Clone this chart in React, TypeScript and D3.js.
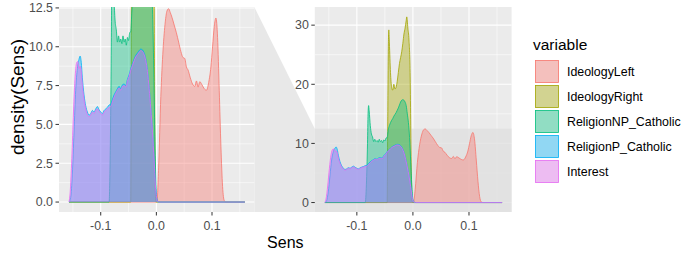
import React, { useEffect, useRef } from 'react'
import { select, scaleLinear, area, line, curveMonotoneX } from 'd3'

// density curves, as [Sens, density] pairs
const ideologyLeft = [
  [-0.157, 0], [0.001, 0], [0.004, 2.2], [0.008, 6.8], [0.012, 9.8], [0.016, 11.6], [0.019, 12.3],
  [0.022, 12.45], [0.025, 12.2], [0.028, 11.9], [0.032, 11.4], [0.036, 10.9], [0.040, 10.3],
  [0.044, 9.7], [0.048, 9.3], [0.051, 9.25], [0.054, 8.7], [0.057, 8.5], [0.061, 8.0],
  [0.065, 7.6], [0.069, 7.45], [0.072, 7.8], [0.075, 7.4], [0.078, 7.75], [0.082, 7.55],
  [0.086, 7.3], [0.090, 7.2], [0.094, 7.7], [0.098, 8.7], [0.101, 10.0], [0.104, 11.3],
  [0.107, 11.85], [0.110, 10.6], [0.113, 7.2], [0.116, 3.6], [0.119, 1.0], [0.122, 0.1],
  [0.125, 0], [0.159, 0]
]
const ideologyRight = [
  [-0.157, 0], [-0.046, 0], [-0.045, 12], [-0.044, 25], [-0.043, 29.2], [-0.042, 27],
  [-0.040, 22], [-0.038, 19.5], [-0.036, 19.0], [-0.034, 20.0], [-0.032, 19.2], [-0.030, 19.5],
  [-0.028, 20.5], [-0.026, 22.0], [-0.024, 23.5], [-0.022, 24.5], [-0.020, 25.5], [-0.018, 26.9],
  [-0.016, 28.5], [-0.014, 29.5], [-0.012, 30.8], [-0.011, 31.4], [-0.009, 29.5], [-0.007, 27.5],
  [-0.005, 22], [-0.004, 14], [-0.003, 6], [-0.002, 1.5], [-0.001, 0], [0.159, 0]
]
const religionNP = [
  [-0.157, 0], [-0.085, 0], [-0.083, 3], [-0.081, 10], [-0.080, 15], [-0.079, 16.4],
  [-0.078, 15.5], [-0.076, 13], [-0.074, 11.6], [-0.072, 11.1], [-0.070, 10.3], [-0.068, 10.7],
  [-0.066, 10.3], [-0.064, 10.5], [-0.062, 10.2], [-0.060, 10.7], [-0.058, 10.3], [-0.056, 10.5],
  [-0.054, 10.1], [-0.052, 10.6], [-0.050, 10.4], [-0.048, 10.9], [-0.046, 11.0], [-0.044, 12.3],
  [-0.042, 13.0], [-0.040, 13.5], [-0.038, 13.9], [-0.036, 14.2], [-0.034, 14.6], [-0.032, 14.9],
  [-0.030, 15.2], [-0.028, 15.6], [-0.026, 16.0], [-0.024, 16.5], [-0.022, 17.0], [-0.020, 17.3],
  [-0.018, 17.4], [-0.016, 17.3], [-0.014, 17.0], [-0.012, 16.4], [-0.010, 15.0], [-0.008, 13.5],
  [-0.006, 11], [-0.004, 7], [-0.002, 3], [0.000, 0.5], [0.002, 0], [0.159, 0]
]
const religionP = [
  [-0.157, 0], [-0.154, 0.3], [-0.151, 1.8], [-0.148, 4.5], [-0.145, 7.2], [-0.142, 8.6],
  [-0.139, 9.2], [-0.137, 9.4], [-0.135, 9.0], [-0.133, 8.0], [-0.130, 6.9], [-0.127, 6.2],
  [-0.124, 5.8], [-0.121, 5.6], [-0.118, 5.7], [-0.115, 5.9], [-0.112, 5.8], [-0.109, 6.0],
  [-0.106, 6.15], [-0.103, 5.95], [-0.100, 5.8], [-0.097, 5.7], [-0.094, 5.9], [-0.091, 6.0],
  [-0.088, 6.1], [-0.085, 6.25], [-0.082, 6.3], [-0.079, 6.6], [-0.076, 6.9], [-0.073, 7.1],
  [-0.070, 7.3], [-0.067, 7.45], [-0.064, 7.3], [-0.061, 7.55], [-0.058, 7.6], [-0.055, 7.5],
  [-0.052, 7.9], [-0.049, 8.2], [-0.046, 8.6], [-0.043, 8.9], [-0.040, 9.2], [-0.037, 9.45],
  [-0.034, 9.6], [-0.031, 9.75], [-0.028, 9.85], [-0.025, 9.8], [-0.022, 9.6], [-0.019, 9.2],
  [-0.016, 8.5], [-0.013, 7.4], [-0.010, 6.1], [-0.007, 4.6], [-0.004, 2.8], [-0.001, 0.8],
  [0.002, 0.1], [0.005, 0], [0.159, 0]
]
const interest = [
  [-0.157, 0], [-0.155, 0.6], [-0.152, 2.8], [-0.149, 5.8], [-0.146, 8.1], [-0.143, 9.0],
  [-0.141, 9.05], [-0.139, 8.6], [-0.137, 8.75], [-0.135, 8.4], [-0.133, 7.5], [-0.130, 6.6],
  [-0.127, 6.0], [-0.124, 5.65], [-0.121, 5.5], [-0.118, 5.6], [-0.115, 5.8], [-0.112, 5.7],
  [-0.109, 5.9], [-0.106, 6.0], [-0.103, 5.85], [-0.100, 5.7], [-0.097, 5.6], [-0.094, 5.8],
  [-0.091, 5.9], [-0.088, 6.0], [-0.085, 6.1], [-0.082, 6.15], [-0.079, 6.45], [-0.076, 6.75],
  [-0.073, 7.0], [-0.070, 7.2], [-0.067, 7.35], [-0.064, 7.2], [-0.061, 7.45], [-0.058, 7.5],
  [-0.055, 7.4], [-0.052, 7.8], [-0.049, 8.1], [-0.046, 8.5], [-0.043, 8.8], [-0.040, 9.1],
  [-0.037, 9.35], [-0.034, 9.5], [-0.031, 9.65], [-0.028, 9.75], [-0.025, 9.7], [-0.022, 9.5],
  [-0.019, 9.1], [-0.016, 8.4], [-0.013, 7.3], [-0.010, 6.0], [-0.007, 4.5], [-0.004, 2.7],
  [-0.001, 0.7], [0.002, 0.05], [0.005, 0], [0.159, 0]
]

const seriesNames = ['IdeologyLeft', 'IdeologyRight', 'ReligionNP_Catholic', 'ReligionP_Catholic', 'Interest']
const seriesData = [ideologyLeft, ideologyRight, religionNP, religionP, interest]
const seriesColors = ['#F8766D', '#A3A500', '#00BF7D', '#00B0F6', '#E76BF3']

const xTicks = [-0.1, 0.0, 0.1]
const xMinor = [-0.15, -0.05, 0.05, 0.15]
const zoomTicks = [0, 2.5, 5, 7.5, 10, 12.5]
const zoomMinor = [1.25, 3.75, 6.25, 8.75, 11.25]
const fullTicks = [0, 10, 20, 30]
const fullMinor = [5, 15, 25]
const zoomLimit = 12.5

const FONT = "'Liberation Sans', Arial, sans-serif"
const ALPHA = 0.4

function App() {
  const node = useRef(null)

  useEffect(() => {
    const svg = select(node.current)
    svg.selectAll('*').remove()

    const top = 7, bottom = 212
    const xDomain = [-0.175, 0.176]
    const zoomLeft = 59, zoomRight = 254.3
    const mainLeft = 314.8, mainRight = 511.6
    const mainY = [-1.6, 33.07]

    // zoom connector between the panels, drawn first so tick labels sit on top
    const yMain = scaleLinear().domain(mainY).range([bottom, top])
    svg.append('polygon')
      .attr('points', [[zoomRight, top], [mainLeft, yMain(zoomLimit)], [mainLeft, bottom], [zoomRight, bottom]].map(p => p.join(',')).join(' '))
      .attr('fill', '#E8E8E8')

    const drawPanel = (id, left, right, yDomain, ticks, minor, labelFmt, band) => {
      const x = scaleLinear().domain(xDomain).range([left, right])
      const y = scaleLinear().domain(yDomain).range([bottom, top])
      const g = svg.append('g')

      svg.append('clipPath').attr('id', id)
        .append('rect').attr('x', left).attr('y', top).attr('width', right - left).attr('height', bottom - top)

      g.append('rect').attr('x', left).attr('y', top).attr('width', right - left).attr('height', bottom - top)
        .attr('fill', '#EBEBEB')

      // grid
      minor.forEach(v => g.append('line').attr('x1', left).attr('x2', right).attr('y1', y(v)).attr('y2', y(v))
        .attr('stroke', '#fff').attr('stroke-width', 0.55))
      xMinor.forEach(v => g.append('line').attr('x1', x(v)).attr('x2', x(v)).attr('y1', top).attr('y2', bottom)
        .attr('stroke', '#fff').attr('stroke-width', 0.55))
      ticks.forEach(v => g.append('line').attr('x1', left).attr('x2', right).attr('y1', y(v)).attr('y2', y(v))
        .attr('stroke', '#fff').attr('stroke-width', 1.1))
      xTicks.forEach(v => g.append('line').attr('x1', x(v)).attr('x2', x(v)).attr('y1', top).attr('y2', bottom)
        .attr('stroke', '#fff').attr('stroke-width', 1.1))

      if (band) {
        g.append('rect').attr('x', left).attr('y', y(zoomLimit)).attr('width', right - left)
          .attr('height', bottom - y(zoomLimit)).attr('fill', '#E0E0E0').attr('opacity', 0.8)
      }

      const plot = g.append('g').attr('clip-path', `url(#${id})`)
      const areaGen = area().x(d => x(d[0])).y0(y(0)).y1(d => y(d[1])).curve(curveMonotoneX)
      const lineGen = line().x(d => x(d[0])).y(d => y(d[1])).curve(curveMonotoneX)
      seriesData.forEach((data, i) => {
        plot.append('path').datum(data).attr('d', areaGen)
          .attr('fill', seriesColors[i]).attr('fill-opacity', ALPHA)
        plot.append('path').datum(data).attr('d', lineGen)
          .attr('fill', 'none').attr('stroke', seriesColors[i]).attr('stroke-width', 0.8)
      })

      // axes
      ticks.forEach(v => {
        g.append('line').attr('x1', left - 3.5).attr('x2', left).attr('y1', y(v)).attr('y2', y(v))
          .attr('stroke', '#333').attr('stroke-width', 1)
        g.append('text').attr('x', left - 6).attr('y', y(v)).attr('dy', '0.35em')
          .attr('text-anchor', 'end').attr('font-family', FONT).attr('font-size', 12.4)
          .attr('fill', '#4D4D4D').text(labelFmt(v))
      })
      xTicks.forEach(v => {
        g.append('line').attr('x1', x(v)).attr('x2', x(v)).attr('y1', bottom).attr('y2', bottom + 3.5)
          .attr('stroke', '#333').attr('stroke-width', 1)
        g.append('text').attr('x', x(v)).attr('y', 229.5)
          .attr('text-anchor', 'middle').attr('font-family', FONT).attr('font-size', 12.4)
          .attr('fill', '#4D4D4D').text(v.toFixed(1))
      })
    }

    drawPanel('clipMain', mainLeft, mainRight, mainY, fullTicks, fullMinor, v => String(v), true)
    drawPanel('clipZoom', zoomLeft, zoomRight, [-0.64, 12.56], zoomTicks, zoomMinor, v => v.toFixed(1), false)

    // axis titles
    svg.append('text').attr('x', (zoomLeft + mainRight) / 2).attr('y', 248)
      .attr('text-anchor', 'middle').attr('font-family', FONT).attr('font-size', 16).text('Sens')
    svg.append('text').attr('transform', 'translate(24,97) rotate(-90)')
      .attr('text-anchor', 'middle').attr('font-family', FONT).attr('font-size', 19).text('density(Sens)')

    // legend
    const legend = svg.append('g')
    legend.append('text').attr('x', 533).attr('y', 50).attr('font-family', FONT).attr('font-size', 15.5).text('variable')
    seriesNames.forEach((name, i) => {
      const ky = 60 + i * 25
      legend.append('rect').attr('x', 535).attr('y', ky).attr('width', 24).attr('height', 23).attr('fill', '#F2F2F2')
      legend.append('rect').attr('x', 535.5).attr('y', ky + 0.5).attr('width', 23).attr('height', 22)
        .attr('fill', seriesColors[i]).attr('fill-opacity', ALPHA).attr('stroke', seriesColors[i]).attr('stroke-width', 0.8)
      legend.append('text').attr('x', 567).attr('y', ky + 12).attr('dy', '0.35em')
        .attr('font-family', FONT).attr('font-size', 12.4).text(name)
    })
  }, [])

  return (
    <svg ref={node} width={700} height={260}
      style={{ position: 'absolute', left: 0, top: 0, background: '#fff' }} />
  )
}

export default App
